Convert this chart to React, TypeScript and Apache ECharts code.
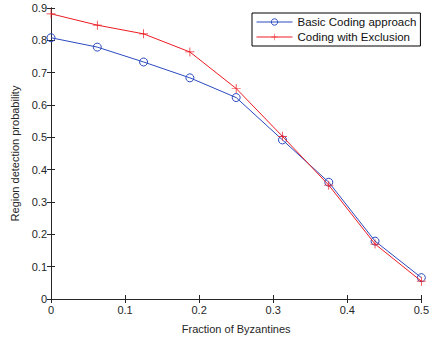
import React, { useEffect, useRef } from "react";
import * as echarts from "echarts";

const xValues = [0, 0.0625, 0.125, 0.1875, 0.25, 0.3125, 0.375, 0.4375, 0.5];
const basicCoding = [0.808, 0.779, 0.733, 0.684, 0.623, 0.492, 0.361, 0.179, 0.066];
const codingExclusion = [0.882, 0.847, 0.820, 0.764, 0.651, 0.503, 0.352, 0.170, 0.055];
const seriesNames = ["Basic Coding approach", "Coding with Exclusion"];

const FONT = "Liberation Sans, Arial, Helvetica, sans-serif";
const PLUS = "path://M-0.08,-1 H0.08 V-0.08 H1 V0.08 H0.08 V1 H-0.08 V0.08 H-1 V-0.08 H-0.08 Z";

export default function App() {
  const ref = useRef<HTMLDivElement>(null);
  useEffect(() => {
    if (!ref.current) return;
    const chart = echarts.init(ref.current, undefined, { renderer: "svg" });
    const axisLine = { show: true, lineStyle: { color: "#262626", width: 1 } };
    const tick = { show: true, inside: true, length: 4, lineStyle: { color: "#262626" } };
    const label = { color: "#262626", fontSize: 11, fontFamily: FONT };
    chart.setOption({
      animation: false,
      backgroundColor: "#ffffff",
      grid: { left: 51, right: 8, top: 8, bottom: 37, containLabel: false },
      legend: {
        left: 252,
        top: 13,
        orient: "vertical",
        itemWidth: 36,
        itemHeight: 8,
        itemGap: 3,
        padding: [3, 4, 3, 4],
        borderColor: "#000",
        borderWidth: 1,
        backgroundColor: "#fff",
        lineStyle: { width: 1 },
        itemStyle: { borderWidth: 1 },
        textStyle: { color: "#111", fontSize: 11.5, fontFamily: FONT },
        data: seriesNames,
      },
      xAxis: [
        {
          type: "value",
          min: 0,
          max: 0.5,
          interval: 0.1,
          position: "bottom",
          name: "Fraction of Byzantines",
          nameLocation: "middle",
          nameGap: 24,
          nameTextStyle: { color: "#262626", fontSize: 11, fontFamily: FONT },
          axisLine,
          axisTick: tick,
          axisLabel: { ...label, margin: 5, formatter: (v: number) => String(+v.toFixed(1)) },
          splitLine: { show: false },
        },
        {
          type: "value",
          min: 0,
          max: 0.5,
          interval: 0.1,
          position: "top",
          axisLine,
          axisTick: tick,
          axisLabel: { show: false },
          splitLine: { show: false },
        },
      ],
      yAxis: [
        {
          type: "value",
          min: 0,
          max: 0.9,
          interval: 0.1,
          position: "left",
          name: "Region detection probability",
          nameLocation: "middle",
          nameGap: 30,
          nameTextStyle: { color: "#262626", fontSize: 11, fontFamily: FONT },
          axisLine,
          axisTick: tick,
          axisLabel: { ...label, margin: 4, formatter: (v: number) => String(+v.toFixed(1)) },
          splitLine: { show: false },
        },
        {
          type: "value",
          min: 0,
          max: 0.9,
          interval: 0.1,
          position: "right",
          axisLine,
          axisTick: tick,
          axisLabel: { show: false },
          splitLine: { show: false },
        },
      ],
      series: [
        {
          name: seriesNames[0],
          type: "line",
          data: xValues.map((x, i) => [x, basicCoding[i]]),
          symbol: "circle",
          symbolSize: 8,
          lineStyle: { color: "#2b4bbf", width: 1 },
          itemStyle: { color: "rgba(255,255,255,0)", borderColor: "#2b4bbf", borderWidth: 1 },
          z: 2,
        },
        {
          name: seriesNames[1],
          type: "line",
          data: xValues.map((x, i) => [x, codingExclusion[i]]),
          symbol: PLUS,
          symbolSize: 9,
          lineStyle: { color: "#ee1c24", width: 1 },
          itemStyle: { color: "#ee1c24" },
          z: 3,
        },
      ],
    });
    return () => chart.dispose();
  }, []);
  return <div ref={ref} style={{ width: 432, height: 339, position: "absolute", left: 0, top: 0 }} />;
}
